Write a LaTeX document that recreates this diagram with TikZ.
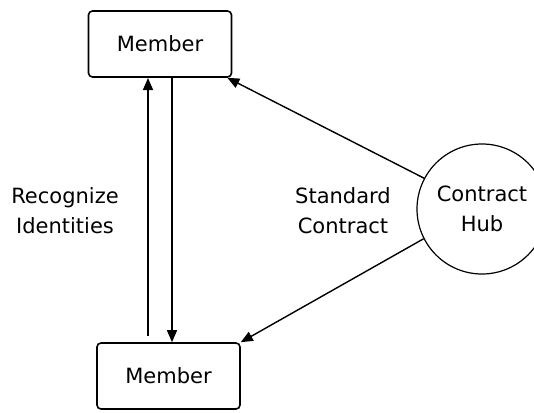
\documentclass[tikz,border=0pt]{standalone}
\usepackage{fontspec}
\setmainfont{DejaVu Sans}
\usetikzlibrary{arrows.meta}
\begin{document}
\begin{tikzpicture}[x=1pt,y=-1pt,
  font=\fontsize{21}{30}\selectfont,
  member/.style={draw, line width=1.6pt, rounded corners=4pt, minimum width=143pt, minimum height=66pt, inner sep=0pt},
  hub/.style={draw, circle, line width=1.2pt, minimum size=130pt, inner sep=0pt, align=center},
  conn/.style={line width=1.4pt, -{Triangle[length=12pt,width=10pt]}},
  lbl/.style={align=center}]
  \useasboundingbox (0,0) rectangle (534,412);
  \begin{scope}
  \clip (0,0) rectangle (534,412);
  \node[member] (top) at (160,44) {Member};
  \node[member] (bot) at (168.5,376) {Member};
  \node[hub] (hub) at (482,209) {Contract\\Hub};
  \coordinate (upS) at (148,336);
  \coordinate (upE) at (148,78);
  \draw[conn] (upS) -- (upE);
  \draw[conn] (top.south -| 172,0) -- (bot.north -| 172,0);
  \draw[conn] (hub.152) -- ([xshift=-5pt]top.south east);
  \draw[conn] (hub.207) -- (bot.north east);
  \node[lbl] (recog) at (65,211) {Recognize\\Identities};
  \node[lbl] (std) at (343,211) {Standard\\Contract};
  \end{scope}
\end{tikzpicture}
\end{document}
